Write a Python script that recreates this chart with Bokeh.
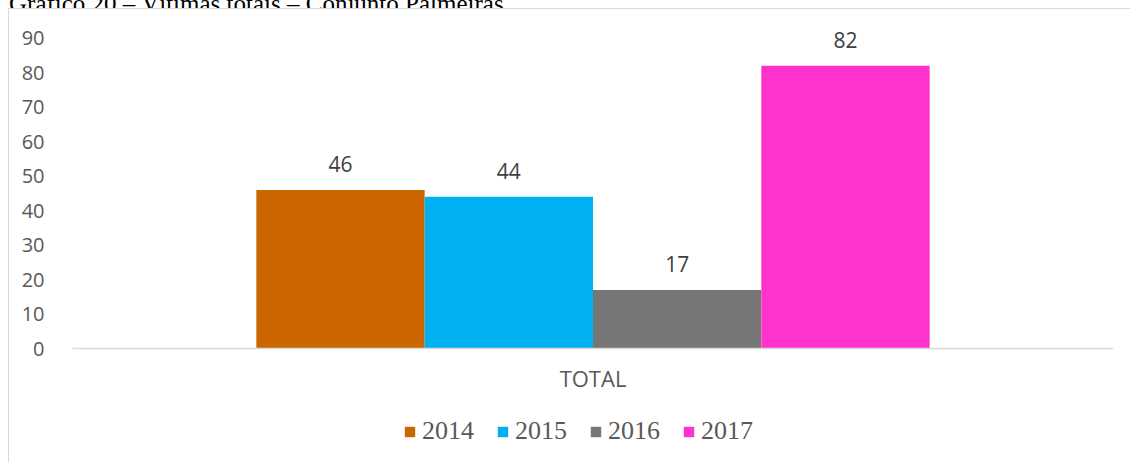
from bokeh.plotting import figure
from bokeh.models import Legend, LegendItem, ColumnDataSource, Range1d, FactorRange, FixedTicker, Div
from bokeh.layouts import column
from bokeh.transform import dodge
from bokeh.core.properties import value
from bokeh.embed import file_html
from bokeh.resources import INLINE

title_text = "Gráfico 20 – Vítimas totais – Conjunto Palmeiras."
categories = ["TOTAL"]
years = ["2014", "2015", "2016", "2017"]
values = [46, 44, 17, 82]
colors = ["#CC6600", "#00B0F0", "#767676", "#FF33CC"]
y_ticks = [0, 10, 20, 30, 40, 50, 60, 70, 80, 90]

bar_w = 0.1617
offsets = [-1.5 * bar_w, -0.5 * bar_w, 0.5 * bar_w, 1.5 * bar_w]

title_div = Div(
    text=('<div style="font-family:\'Liberation Serif\',serif;font-size:25px;'
          'line-height:25px;margin-top:-14.5px;padding-left:9px;white-space:nowrap;'
          'color:#000000;">' + title_text + '</div>'),
    width=1131, height=8, margin=0, styles={"overflow": "hidden"})

border_css = "1px solid #d9d9d9"

# y range extends a little above 90 so the "82" label above its bar is not clipped
p = figure(width=1122, height=400,
           x_range=FactorRange(*categories, range_padding=0),
           y_range=Range1d(0, 96),
           output_backend="svg", toolbar_location=None,
           min_border_left=63, min_border_right=18,
           min_border_top=8, min_border_bottom=61)
p.margin = (0, 0, 0, 8)
p.styles = {"border-left": border_css, "border-top": border_css}
p.outline_line_color = None
p.xgrid.visible = False
p.ygrid.visible = False

for v, c, off in zip(values, colors, offsets):
    src = ColumnDataSource(dict(cat=categories, val=[v], lab=[str(v)]))
    p.vbar(x=dodge("cat", off, range=p.x_range), top="val", bottom=0,
           width=bar_w, source=src, fill_color=c, line_color=None)
    p.text(x=dodge("cat", off, range=p.x_range), y="val", text="lab", source=src,
           text_align="center", text_baseline="alphabetic", y_offset=-26,
           text_font=value("Open Sans"), text_font_size="21px", text_color="#404040")

p.yaxis.ticker = FixedTicker(ticks=y_ticks)
p.yaxis.axis_line_color = None
p.yaxis.major_tick_line_color = None
p.yaxis.minor_tick_line_color = None
p.yaxis.major_label_standoff = 22
p.yaxis.major_label_text_font = "Open Sans"
p.yaxis.major_label_text_font_size = "20px"
p.yaxis.major_label_text_color = "#595959"

p.xaxis.axis_line_color = "#d9d9d9"
p.xaxis.axis_line_width = 1.5
p.xaxis.major_tick_line_color = None
p.xaxis.minor_tick_line_color = None
p.xaxis.major_label_standoff = 8
p.xaxis.major_label_text_font = "Open Sans"
p.xaxis.major_label_text_font_size = "22px"
p.xaxis.major_label_text_color = "#595959"

# legend strip (same bordered box, below the plot)
lf = figure(width=1122, height=54, x_range=Range1d(0, 1), y_range=Range1d(0, 1),
            x_axis_location=None, y_axis_location=None,
            output_backend="svg", toolbar_location=None, min_border=0)
lf.margin = (0, 0, 0, 8)
lf.styles = {"border-left": border_css}
lf.outline_line_color = None
lf.grid.visible = False

items = []
for yr, c in zip(years, colors):
    # zero-height bar: invisible, only provides the legend swatch colour
    swatch_src = ColumnDataSource(dict(x=[0.5], top=[0]))
    r = lf.vbar(x="x", top="top", bottom=0, width=0.01, source=swatch_src,
                fill_color=c, line_color=None)
    items.append(LegendItem(label=yr, renderers=[r]))

legend = Legend(items=items, orientation="horizontal", location=(331, 16),
                label_text_font="Liberation Serif", label_text_font_size="26px",
                label_text_color="#595959", glyph_width=13, glyph_height=13,
                label_standoff=6, spacing=22, padding=0, margin=0,
                border_line_color=None, background_fill_alpha=0)
lf.add_layout(legend, "center")

layout = column(title_div, p, lf, spacing=0)
open("out.html", "w").write(file_html(layout, INLINE))
